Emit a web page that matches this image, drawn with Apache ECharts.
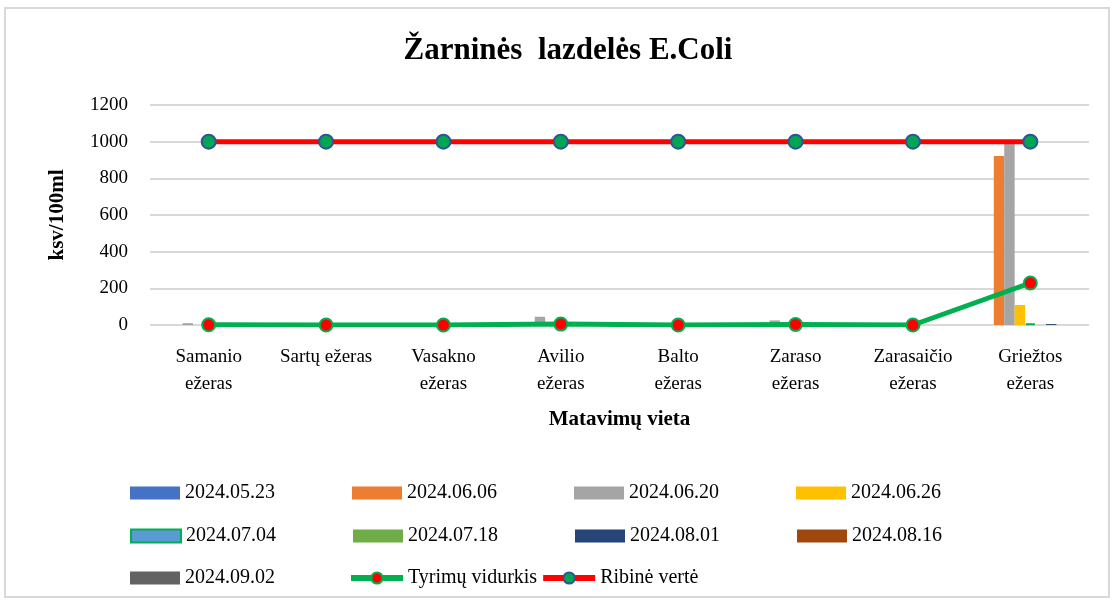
<!DOCTYPE html>
<html style="height: 100%">
<head>
  <meta charset="utf-8">
</head>
<body style="height: 100%; margin: 0; background: #fff">
  <div id="container" style="width: 1115px; height: 601px"></div>
  <script type="text/javascript" src="https://cdn.jsdelivr.net/npm/echarts@6/dist/echarts.min.js"></script>
  <script type="text/javascript">
    // vietos (kategorijos)
    var places = ['Samanio\nežeras', 'Sartų ežeras', 'Vasakno\nežeras', 'Avilio\nežeras', 'Balto\nežeras',
      'Zaraso\nežeras', 'Zarasaičio\nežeras', 'Griežtos\nežeras'];
    var yTicks = [0, 200, 400, 600, 800, 1000, 1200];

    // matavimu datos ir reiksmes (ksv/100ml)
    var dates = ['2024.05.23', '2024.06.06', '2024.06.20', '2024.06.26', '2024.07.04',
      '2024.07.18', '2024.08.01', '2024.08.16', '2024.09.02'];
    var v0523 = [0, 0, 0, 0, 0, 0, 0, 0];
    var v0606 = [0, 0, 0, 0, 0, 0, 0, 922];
    var v0620 = [10, 0, 0, 45, 0, 25, 0, 993];
    var v0626 = [0, 0, 0, 0, 0, 0, 0, 109];
    var v0704 = [0, 0, 0, 0, 0, 0, 0, 8];
    var v0718 = [0, 0, 0, 0, 0, 0, 0, 0];
    var v0801 = [0, 0, 0, 0, 0, 0, 0, 5];
    var v0816 = [0, 0, 0, 0, 0, 0, 0, 0];
    var v0902 = [0, 0, 0, 0, 0, 0, 0, 0];
    var average = [1, 0, 0, 5, 0, 3, 0, 229];
    var limit = [1000, 1000, 1000, 1000, 1000, 1000, 1000, 1000];

    var barValues = [v0523, v0606, v0620, v0626, v0704, v0718, v0801, v0816, v0902];
    var barColors = ['#4472C4', '#ED7D31', '#A5A5A5', '#FFC000', '#5B9BD5', '#70AD47', '#264478', '#9E480E', '#636363'];

    var font = '"Liberation Serif", "Times New Roman", serif';

    var dom = document.getElementById("container");
    var myChart = echarts.init(dom);

    var series = [];
    for (var i = 0; i < dates.length; i++) {
      var st = { color: barColors[i] };
      if (dates[i] === '2024.07.04') {
        st.borderColor = '#00B050';
        st.borderWidth = 2;
      }
      series.push({
        name: dates[i],
        type: 'bar',
        data: barValues[i],
        itemStyle: st,
        barGap: '0%',
        barCategoryGap: '20%',
        z: 2
      });
    }
    series.push({
      name: 'Tyrimų vidurkis',
      type: 'line',
      data: average,
      symbol: 'circle',
      symbolSize: 13,
      lineStyle: { color: '#00B050', width: 5 },
      itemStyle: { color: '#FF0000', borderColor: '#00B050', borderWidth: 2 },
      z: 5
    });
    series.push({
      name: 'Ribinė vertė',
      type: 'line',
      data: limit,
      symbol: 'circle',
      symbolSize: 14,
      lineStyle: { color: '#FF0000', width: 5 },
      itemStyle: { color: '#00A651', borderColor: '#2F5597', borderWidth: 2 },
      z: 5
    });

    var legendText = { fontFamily: font, fontSize: 20, color: '#000' };

    var option = {
      animation: false,
      backgroundColor: '#fff',
      graphic: [{
        type: 'rect',
        shape: { x: 5, y: 8, width: 1104, height: 589 },
        style: { fill: 'none', stroke: '#D9D9D9', lineWidth: 2 },
        silent: true
      }],
      title: {
        text: 'Žarninės  lazdelės E.Coli',
        left: 563,
        textAlign: 'center',
        top: 30,
        textStyle: { fontFamily: font, fontSize: 31, fontWeight: 'bold', color: '#000' }
      },
      legend: [{
        data: dates.slice(0, 4),
        left: 125, top: 478,
        icon: 'rect',
        itemWidth: 50, itemHeight: 13, itemGap: 77,
        textStyle: legendText
      }, {
        data: dates.slice(4, 8),
        left: 125, top: 521,
        icon: 'rect',
        itemWidth: 50, itemHeight: 13, itemGap: 77,
        textStyle: legendText
      }, {
        data: [dates[8]],
        left: 125, top: 563,
        icon: 'rect',
        itemWidth: 50, itemHeight: 13, itemGap: 0,
        textStyle: legendText
      }, {
        data: ['Tyrimų vidurkis', 'Ribinė vertė'],
        left: 343, top: 563,
        itemWidth: 52, itemHeight: 14, itemGap: 3,
        lineStyle: { width: 6 },
        textStyle: legendText
      }],
      grid: { left: 150, right: 26, top: 105, bottom: 276 },
      xAxis: {
        type: 'category',
        data: places,
        axisLine: { show: false },
        axisTick: { show: false },
        axisLabel: {
          interval: 0, margin: 19, color: '#000',
          fontFamily: font, fontSize: 19, lineHeight: 27
        },
        name: 'Matavimų vieta',
        nameLocation: 'middle',
        nameGap: 84,
        nameTextStyle: { fontFamily: font, fontSize: 21, fontWeight: 'bold', color: '#000' }
      },
      yAxis: {
        type: 'value',
        min: yTicks[0],
        max: yTicks[yTicks.length - 1],
        interval: yTicks[1] - yTicks[0],
        axisLine: { show: false },
        axisTick: { show: false },
        splitLine: { lineStyle: { color: '#D9D9D9', width: 2 } },
        axisLabel: {
          margin: 22, color: '#000', fontFamily: font, fontSize: 19,
          formatter: function (v) { return String(v); }
        },
        name: 'ksv/100ml',
        nameLocation: 'middle',
        nameGap: 82,
        nameRotate: 90,
        nameTextStyle: { fontFamily: font, fontSize: 21, fontWeight: 'bold', color: '#000' }
      },
      series: series
    };

    myChart.setOption(option);
  </script>
</body>
</html>
